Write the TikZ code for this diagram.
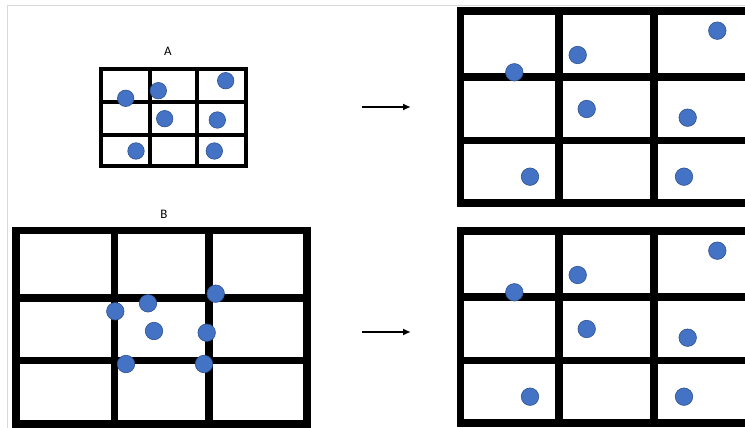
\documentclass[tikz,border=0pt]{standalone}
\usepackage{fontspec}
\setmainfont{Carlito}
\usetikzlibrary{arrows.meta}

\definecolor{dotblue}{HTML}{4472C4}
\definecolor{dotedge}{HTML}{2F528F}

\begin{document}
\begin{tikzpicture}[
  x=1pt, y=-1pt,
  font=\fontsize{13}{15}\selectfont,
  thin grid/.style={line width=3.3pt, line join=miter},
  thick grid/.style={line width=7.7pt, line join=miter},
  dot/.style={circle, fill=dotblue, draw=dotedge, line width=0.6pt, inner sep=0pt, minimum size=17.5pt},
  flow/.style={-{Latex[length=8pt,width=7pt]}, line width=2pt}
]
\useasboundingbox (0,0) rectangle (745,428);
\clip (0,0) rectangle (745,428);
\fill[white] (0,0) rectangle (745,428);
\draw[gray!30, line width=1pt] (7,428) -- (7,6) -- (745,6);

% -------------------------------------------------------------------------
% GRID A (small)
% -------------------------------------------------------------------------
\node (labelA) at (168,51) {A};
\draw[thin grid] (101,69) rectangle (246,166);
\draw[thin grid] (150,69) -- (150,166) (197,69) -- (197,166);
\draw[thin grid] (101,102) -- (246,102) (101,135) -- (246,135);
\node[dot, minimum size=16.5pt] (a1) at (125.7,98.3) {};
\node[dot, minimum size=16.5pt] (a2) at (158.3,90.7) {};
\node[dot, minimum size=16.5pt] (a3) at (225.7,80.7) {};
\node[dot, minimum size=16.5pt] (a4) at (164.7,118.7) {};
\node[dot, minimum size=16.5pt] (a5) at (217.3,120) {};
\node[dot, minimum size=16.5pt] (a6) at (136,151) {};
\node[dot, minimum size=16.5pt] (a7) at (214.3,151) {};

% -------------------------------------------------------------------------
% GRID B (large)
% -------------------------------------------------------------------------
\node (labelB) at (164,214) {B};
\draw[thick grid] (16.2,230.5) rectangle (307,424);
\draw[thick grid] (114.5,230.5) -- (114.5,424) (208.8,230.5) -- (208.8,424);
\draw[thick grid] (16.2,297.8) -- (307,297.8) (16.2,360.5) -- (307,360.5);
\node[dot] (b1) at (115.3,311.3) {};
\node[dot] (b2) at (148,303.3) {};
\node[dot] (b3) at (215.7,293.7) {};
\node[dot] (b4) at (154,331) {};
\node[dot] (b5) at (206.7,332.7) {};
\node[dot] (b6) at (126,364) {};
\node[dot] (b7) at (204,364) {};

% -------------------------------------------------------------------------
% RESULT GRIDS (right)
% -------------------------------------------------------------------------
\foreach \dy/\r in {0/ra, 220/rb} {
  \begin{scope}[yshift=-\dy pt]
    \draw[thick grid] (460.5,11) rectangle (752,203);
    \draw[thick grid] (559.2,11) -- (559.2,203) (653.8,11) -- (653.8,203);
    \draw[thick grid] (460.5,77.2) -- (752,77.2) (460.5,140.5) -- (752,140.5);
    \node[dot] (\r1) at (514.3,72.3) {};
    \node[dot] (\r2) at (577.7,55) {};
    \node[dot] (\r3) at (717.3,30.7) {};
    \node[dot] (\r4) at (586.7,109) {};
    \node[dot] (\r5) at (687.7,117.7) {};
    \node[dot] (\r6) at (530,176.7) {};
    \node[dot] (\r7) at (684,176.7) {};
  \end{scope}
}

% -------------------------------------------------------------------------
% ARROWS
% -------------------------------------------------------------------------
\coordinate (arrA_s) at (362,107);
\coordinate (arrA_e) at (411,107);
\coordinate (arrB_s) at (362,332);
\coordinate (arrB_e) at (411,332);
\draw[flow] (arrA_s) -- (arrA_e);
\draw[flow] (arrB_s) -- (arrB_e);
\end{tikzpicture}
\end{document}
